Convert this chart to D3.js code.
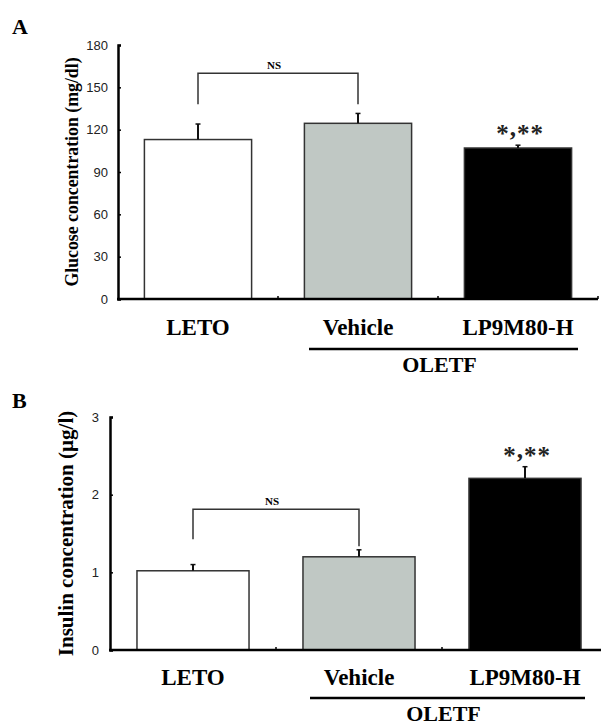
<!DOCTYPE html>
<html>
<head>
<meta charset="utf-8">
<script src="https://cdn.jsdelivr.net/npm/d3@7"></script>
<style>
  body { margin: 0; background: #fff; }
  svg { display: block; }
  .serif { font-family: "Liberation Serif", "Times New Roman", serif; font-weight: bold; }
  .tick text { font-family: "Liberation Sans", Arial, sans-serif; font-size: 13px; fill: #222; }
</style>
</head>
<body>
<svg id="chart" width="601" height="728"></svg>
<script>
var categories = ["LETO", "Vehicle", "LP9M80-H"];
var fills = ["#ffffff", "#c0c8c4", "#000000"];

var glucoseMean = [113, 124.5, 107];
var glucoseSE = [11, 7, 2];
var glucoseTicks = [0, 30, 60, 90, 120, 150, 180];

var insulinMean = [1.02, 1.2, 2.21];
var insulinSE = [0.08, 0.09, 0.15];
var insulinTicks = [0, 1, 2, 3];

var svg = d3.select("#chart");

function drawPanel(p) {
  var g = svg.append("g");

  var x = d3.scaleBand().domain(categories).range(p.xRange)
    .paddingInner(p.pad).paddingOuter(p.pad / 2);
  var y = d3.scaleLinear().domain(p.domain).range(p.yRange);
  var step = x.step();

  // bars
  g.selectAll(".bar")
    .data(p.mean)
    .enter().append("rect")
    .attr("class", "bar")
    .attr("x", function(d, i) { return x(categories[i]); })
    .attr("y", function(d) { return y(d); })
    .attr("width", x.bandwidth())
    .attr("height", function(d) { return y(0) - y(d); })
    .attr("fill", function(d, i) { return fills[i]; })
    .attr("stroke", "#333")
    .attr("stroke-width", 1.5);

  // error bars (upper only)
  var err = g.selectAll(".err")
    .data(p.mean)
    .enter().append("g").attr("class", "err");
  err.append("line")
    .attr("x1", function(d, i) { return x(categories[i]) + x.bandwidth() / 2; })
    .attr("x2", function(d, i) { return x(categories[i]) + x.bandwidth() / 2; })
    .attr("y1", function(d) { return y(d); })
    .attr("y2", function(d, i) { return y(d + p.se[i]); })
    .attr("stroke", "#111").attr("stroke-width", 2);
  err.append("line")
    .attr("x1", function(d, i) { return x(categories[i]) + x.bandwidth() / 2 - 2.5; })
    .attr("x2", function(d, i) { return x(categories[i]) + x.bandwidth() / 2 + 2.5; })
    .attr("y1", function(d, i) { return y(d + p.se[i]); })
    .attr("y2", function(d, i) { return y(d + p.se[i]); })
    .attr("stroke", "#111").attr("stroke-width", 1.5);

  // y axis
  var yAxis = g.append("g")
    .attr("transform", "translate(" + p.xRange[0] + ",0)")
    .call(d3.axisLeft(y).tickValues(p.ticks).tickFormat(d3.format("d"))
      .tickSize(-3).tickPadding(p.tickPad));
  yAxis.select(".domain").attr("stroke", "#000").attr("stroke-width", 2.5);
  yAxis.selectAll(".tick line").attr("stroke", "#000").attr("stroke-width", 1.5);

  // x axis line with ticks at category boundaries
  g.append("line")
    .attr("x1", p.xRange[0] - 1).attr("x2", p.xRange[1])
    .attr("y1", y(0)).attr("y2", y(0))
    .attr("stroke", "#000").attr("stroke-width", 2.5);
  g.selectAll(".xtick")
    .data(d3.range(1, categories.length + 1))
    .enter().append("line")
    .attr("x1", function(i) { return p.xRange[0] + i * step; })
    .attr("x2", function(i) { return p.xRange[0] + i * step; })
    .attr("y1", y(0)).attr("y2", y(0) - 3)
    .attr("stroke", "#000").attr("stroke-width", 1.5);

  // category labels
  g.selectAll(".cat")
    .data(categories)
    .enter().append("text")
    .attr("class", "serif")
    .attr("x", function(d) { return x(d) + x.bandwidth() / 2; })
    .attr("y", p.catY)
    .attr("text-anchor", "middle")
    .attr("font-size", 23)
    .text(function(d) { return d; });

  // OLETF group bracket
  var cV = x("Vehicle") + x.bandwidth() / 2;
  var cL = x("LP9M80-H") + x.bandwidth() / 2;
  g.append("line")
    .attr("x1", cV - 49).attr("x2", cL + 60)
    .attr("y1", p.groupLineY).attr("y2", p.groupLineY)
    .attr("stroke", "#000").attr("stroke-width", 2.5);
  g.append("text")
    .attr("class", "serif")
    .attr("x", (cV - 49 + cL + 60) / 2 - 4)
    .attr("y", p.groupLineY + 23)
    .attr("text-anchor", "middle")
    .attr("font-size", 22)
    .text("OLETF");

  // NS bracket between LETO and Vehicle
  var cE = x("LETO") + x.bandwidth() / 2;
  g.append("path")
    .attr("d", "M" + cE + "," + y(p.nsLeft) + "V" + y(p.nsTop) + "H" + cV + "V" + y(p.nsRight))
    .attr("fill", "none").attr("stroke", "#333").attr("stroke-width", 1.5);
  g.append("text")
    .attr("class", "serif")
    .attr("x", (cE + cV) / 2 - 4)
    .attr("y", y(p.nsTop) - 4)
    .attr("text-anchor", "middle")
    .attr("font-size", 11)
    .text("NS");

  // significance stars, comma raised to sit between the stars
  var stars = g.append("text")
    .attr("class", "serif")
    .attr("x", cL + 2)
    .attr("y", y(p.mean[2] + p.se[2]) + p.starDy)
    .attr("text-anchor", "middle")
    .attr("font-size", 25)
    .attr("letter-spacing", 1)
    .attr("fill", "#222");
  stars.append("tspan").text("*");
  stars.append("tspan").attr("dy", -6).text(",");
  stars.append("tspan").attr("dy", 6).text("**");

  // y axis title
  var ty = (p.yRange[0] + p.yRange[1]) / 2;
  g.append("text")
    .attr("class", "serif")
    .attr("transform", "translate(" + p.titleX + "," + ty + ") rotate(-90)")
    .attr("text-anchor", "middle")
    .attr("font-size", p.titleSize)
    .text(p.title);

  // panel letter
  g.append("text")
    .attr("class", "serif")
    .attr("x", 12).attr("y", p.letterY)
    .attr("font-size", 22)
    .text(p.letter);
}

drawPanel({
  letter: "A", letterY: 34,
  title: "Glucose concentration (mg/dl)", titleX: 78, titleSize: 17.8,
  mean: glucoseMean, se: glucoseSE, ticks: glucoseTicks,
  domain: [0, 180], yRange: [299, 45], xRange: [118, 598], pad: 0.33,
  tickPad: 10, catY: 335, groupLineY: 349,
  nsTop: 160, nsLeft: 138, nsRight: 138, starDy: -3
});

drawPanel({
  letter: "B", letterY: 408,
  title: "Insulin concentration (\u00b5g/l)", titleX: 73, titleSize: 21,
  mean: insulinMean, se: insulinSE, ticks: insulinTicks,
  domain: [0, 3], yRange: [650, 417], xRange: [110, 608], pad: 0.325,
  tickPad: 11, catY: 685, groupLineY: 698,
  nsTop: 1.812, nsLeft: 1.425, nsRight: 1.335, starDy: -3
});
</script>
</body>
</html>
